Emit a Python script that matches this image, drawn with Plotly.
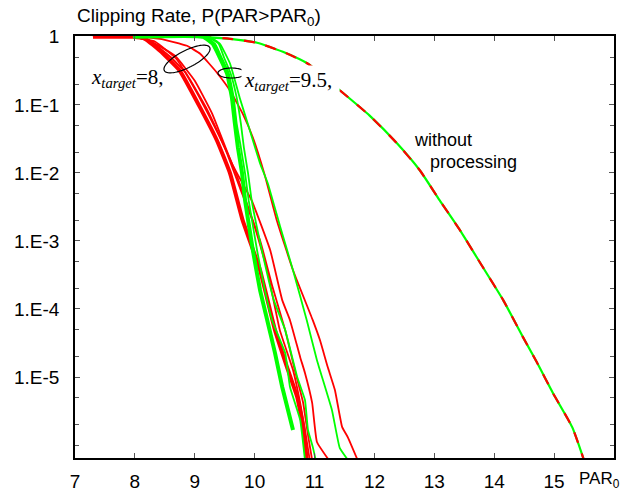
import math
import plotly.graph_objects as go

# ---------------- data ----------------
# x_target = 8 (red)
r_thick_x = [7.30, 7.97, 8.17, 8.42, 8.75, 9.09, 9.37, 9.59, 9.80, 10.09, 10.34, 10.54, 10.71, 10.81, 10.87]
r_thick_y = [1, 1, 0.935, 0.623, 0.317, 0.091, 0.0299, 9.8e-3, 2.0e-3, 3.71e-4, 4.89e-5, 1.40e-5, 5.09e-6, 1.85e-6, 6.0e-7]

r_a_x = [7.30, 7.97, 8.25, 8.59, 8.85, 9.19, 9.45, 9.67, 9.97, 10.21, 10.42, 10.64, 10.76, 10.84, 10.92]
r_a_y = [1, 1, 0.874, 0.509, 0.297, 0.091, 0.0299, 0.01084, 2.0e-3, 3.71e-4, 4.89e-5, 1.27e-5, 4.16e-6, 1.67e-6, 6.0e-7]

r_a2_x = [7.30, 7.97, 8.34, 8.69, 8.97, 9.22, 9.52, 9.77, 10.09, 10.29, 10.51, 10.67, 10.81, 10.89, 10.96]
r_a2_y = [1, 1, 0.845, 0.476, 0.191, 0.0743, 0.0213, 5.52e-3, 1.02e-3, 2.23e-4, 4.89e-5, 1.27e-5, 4.16e-6, 1.41e-6, 6.0e-7]

r_b_x = [7.30, 7.97, 8.25, 8.67, 9.00, 9.29, 9.62, 9.95, 10.26, 10.46, 10.59, 10.76, 10.84, 10.96, 11.04, 11.24]
r_b_y = [1, 1, 0.874, 0.526, 0.226, 0.0743, 0.01374, 3.94e-3, 7.3e-4, 1.35e-4, 6.85e-5, 1.96e-5, 1.15e-5, 4.16e-6, 1.11e-6, 6.0e-7]

r_c_x = [7.30, 7.97, 8.42, 8.87, 9.09, 9.37, 9.59, 9.80, 9.97, 10.17, 10.37, 10.64, 10.97, 11.09, 11.22, 11.34, 11.46, 11.56, 11.72]
r_c_y = [1, 1, 0.935, 0.738, 0.563, 0.297, 0.1615, 0.0743, 0.033, 9.16e-3, 2.0e-3, 3.71e-4, 6.85e-5, 3.49e-5, 1.40e-5, 6.44e-6, 1.85e-6, 1.28e-6, 6.0e-7]

# x_target = 9.5 (green)
g_thick_x = [7.97, 9.14, 9.30, 9.42, 9.54, 9.62, 9.67, 9.72, 9.79, 9.84, 9.97, 10.09, 10.21, 10.34, 10.46, 10.64]
g_thick_y = [1, 1, 0.789, 0.492, 0.287, 0.1276, 0.053, 0.0236, 9.8e-3, 3.94e-3, 7.3e-4, 1.89e-4, 6.85e-5, 2.25e-5, 7.13e-6, 1.67e-6]

g_a_x = [7.97, 9.17, 9.34, 9.45, 9.57, 9.65, 9.70, 9.77, 9.84, 9.90, 10.04, 10.17, 10.29, 10.51, 10.59, 10.76, 10.84]
g_a_y = [1, 1, 0.789, 0.492, 0.287, 0.1276, 0.053, 0.0236, 9.8e-3, 3.94e-3, 7.3e-4, 1.89e-4, 6.85e-5, 2.25e-5, 7.13e-6, 2.34e-6, 6.0e-7]

g_b_x = [7.97, 9.20, 9.40, 9.49, 9.60, 9.70, 9.77, 9.82, 9.89, 9.95, 10.12, 10.32, 10.51, 10.71, 10.84, 10.89, 10.97, 11.02]
g_b_y = [1, 1, 0.789, 0.492, 0.287, 0.1276, 0.053, 0.0236, 9.8e-3, 3.94e-3, 7.3e-4, 1.35e-4, 4.89e-5, 1.0e-5, 4.6e-6, 1.67e-6, 9.4e-7, 6.0e-7]

g_c_x = [7.97, 9.24, 9.42, 9.59, 9.75, 9.92, 10.09, 10.22, 10.42, 10.64, 10.87, 11.04, 11.29, 11.42, 11.56]
g_c_y = [1, 1, 0.789, 0.402, 0.1276, 0.0419, 0.01374, 7.0e-3, 1.69e-3, 3.71e-4, 6.85e-5, 1.77e-5, 3.28e-6, 9.1e-7, 6.0e-7]

# without processing (red/green)
wp_x = [9.09, 9.59, 10.04, 10.51, 10.89, 11.37, 11.92, 12.38, 12.76, 13.09, 13.43, 13.79, 14.15, 14.48, 14.71, 14.98, 15.30, 15.48, 15.51]
wp_y = [1.0, 0.935, 0.817, 0.583, 0.402, 0.179, 0.0695, 0.027, 0.01084, 3.94e-3, 1.43e-3, 4.39e-4, 1.35e-4, 3.86e-5, 1.66e-5, 5.82e-6, 1.85e-6, 6.7e-7, 5.5e-7]

x_ticks = [7, 8, 9, 10, 11, 12, 13, 14, 15]
y_ticks = [1, 1e-1, 1e-2, 1e-3, 1e-4, 1e-5]
y_ticktext = ["1", "1.E-1", "1.E-2", "1.E-3", "1.E-4", "1.E-5"]
y_minor = [v * m for v in [1e-1, 1e-2, 1e-3, 1e-4, 1e-5, 1e-6, 1e-7] for m in (5, 2)] + [1e-6]

# ---------------- figure ----------------
RED = "#ff0000"
GREEN = "#00ff00"
W, H = 631, 491
ML, MR, MT, MB = 75, 17, 36, 33
PW, PH = W - ML - MR, H - MT - MB

fig = go.Figure()

# without processing: green solid under red dashes
fig.add_trace(go.Scatter(x=wp_x, y=wp_y, mode="lines",
                         line=dict(color=GREEN, width=2.2, shape="spline", smoothing=0.5)))
fig.add_trace(go.Scatter(x=wp_x, y=wp_y, mode="lines",
                         line=dict(color=RED, width=2.2, dash="11px,11px", shape="spline", smoothing=0.5)))

for xs, ys, w in [(r_c_x, r_c_y, 1.8), (r_b_x, r_b_y, 1.8), (r_a2_x, r_a2_y, 1.8),
                  (r_a_x, r_a_y, 1.8), (r_thick_x, r_thick_y, 4)]:
    fig.add_trace(go.Scatter(x=xs, y=ys, mode="lines",
                             line=dict(color=RED, width=w, shape="spline", smoothing=0.35)))

for xs, ys, w in [(g_c_x, g_c_y, 1.8), (g_b_x, g_b_y, 1.8), (g_a_x, g_a_y, 1.8),
                  (g_thick_x, g_thick_y, 4)]:
    fig.add_trace(go.Scatter(x=xs, y=ys, mode="lines",
                             line=dict(color=GREEN, width=w, shape="spline", smoothing=0.35)))


def px_to_paper(px, py):
    return (px - ML) / PW, (H - MB - py) / PH


def ellipse_path(cx, cy, a, b, ang_deg, n=72):
    t = math.radians(ang_deg)
    pts = []
    for i in range(n):
        u = 2 * math.pi * i / n
        ex, ey = a * math.cos(u), b * math.sin(u)
        px = cx + ex * math.cos(t) + ey * math.sin(t)
        py = cy - ex * math.sin(t) + ey * math.cos(t)
        xp, yp = px_to_paper(px, py)
        pts.append(f"{xp:.5f},{yp:.5f}")
    return "M " + " L ".join(pts) + " Z"


fig.add_shape(type="path", xref="paper", yref="paper",
              path=ellipse_path(187, 59, 25.5, 8.5, 27), line=dict(color="black", width=1.2))
fig.add_shape(type="path", xref="paper", yref="paper",
              path=ellipse_path(231.5, 73, 13.5, 5, 0), line=dict(color="black", width=1.2))

serif = "Liberation Serif, Times New Roman, serif"
sans = "Liberation Sans, Arial, sans-serif"


def note(px, py, text, size, family, xanchor="center", **kw):
    x, y = px_to_paper(px, py)
    fig.add_annotation(x=x, y=y, xref="paper", yref="paper", showarrow=False,
                       xanchor=xanchor, yanchor="middle", text=text,
                       font=dict(family=family, size=size, color="black"), **kw)


note(127, 78, "<i>x</i><sub><i>target</i></sub>=8,", 21, serif)
note(290, 81, "<i>x</i><sub><i>target</i></sub>=9.5, ", 21, serif, bgcolor="white", borderpad=2)
note(412, 140, "without", 18, sans, xanchor="left")
note(428, 162, "processing", 18, sans, xanchor="left")
note(75, 17, "Clipping Rate, P(PAR&gt;PAR<sub>0</sub>)", 19, sans, xanchor="left")
note(599, 480, "PAR<sub>0</sub>", 17, sans)

fig.update_layout(
    width=W, height=H,
    margin=dict(l=ML, r=MR, t=MT, b=MB, pad=0),
    paper_bgcolor="white", plot_bgcolor="white",
    showlegend=False,
    font=dict(family=sans, size=19, color="black"),
    xaxis=dict(range=[7, 16], tickvals=x_ticks, ticks="inside", ticklen=5, tickcolor="#555",
               showline=True, linecolor="black", linewidth=1.5, mirror="allticks",
               showgrid=False, zeroline=False, ticklabelstandoff=5, automargin=False,
               tickfont=dict(size=19)),
    yaxis=dict(type="log", range=[-6.19, 0.012], tickvals=y_ticks, ticktext=y_ticktext,
               ticks="inside", ticklen=5, tickcolor="#555",
               showline=True, linecolor="black", linewidth=1.5, mirror="allticks",
               showgrid=False, zeroline=False, ticklabelstandoff=10, automargin=False,
               tickfont=dict(size=19),
               minor=dict(tickvals=y_minor, ticks="inside", ticklen=4, tickcolor="#555", showgrid=False)),
)

fig.write_html("out.html")
